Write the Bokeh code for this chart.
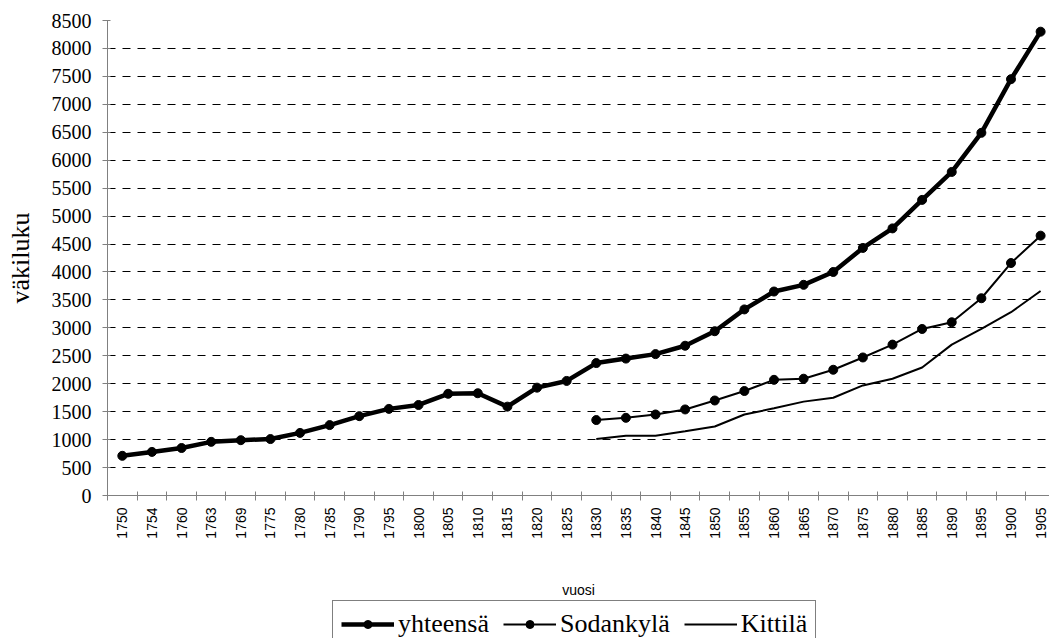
import math
import numpy as np
from bokeh.plotting import figure
from bokeh.layouts import column
from bokeh.models import (Range1d, FixedTicker, Legend, LegendItem)
from bokeh.embed import file_html
from bokeh.resources import INLINE

nan = float("nan")

years = ["1750", "1754", "1760", "1763", "1769", "1775", "1780", "1785", "1790", "1795",
         "1800", "1805", "1810", "1815", "1820", "1825", "1830", "1835", "1840", "1845",
         "1850", "1855", "1860", "1865", "1870", "1875", "1880", "1885", "1890", "1895",
         "1900", "1905"]

yhteensa = [710, 780, 850, 960, 990, 1010, 1120, 1260, 1420, 1550,
            1620, 1820, 1830, 1590, 1930, 2050, 2370, 2450, 2530, 2680,
            2940, 3330, 3650, 3770, 4000, 4430, 4780, 5290, 5790, 6490,
            7450, 8300]

sodankyla = [nan] * 16 + [1350, 1390, 1450, 1540, 1700, 1870, 2070, 2090, 2250, 2470,
                          2700, 2980, 3100, 3530, 4160, 4650]

kittila = [nan] * 16 + [1010, 1070, 1070, 1150, 1235, 1450, 1560, 1680, 1750, 1970,
                        2090, 2290, 2700, 2980, 3280, 3660]

series_names = ["yhteensä", "Sodankylä", "Kittilä"]

y_ticks = list(range(0, 8501, 500))

x = list(range(len(years)))

p = figure(width=1049, height=600, output_backend="svg", toolbar_location=None,
           x_range=Range1d(-0.5, 31.3), y_range=Range1d(0, 8500),
           min_border_left=107, min_border_top=20, min_border_right=0, min_border_bottom=104)
p.outline_line_color = None
p.background_fill_color = "white"
p.border_fill_color = "white"

# grid
p.xgrid.grid_line_color = None
p.ygrid.grid_line_color = "black"
p.ygrid.grid_line_dash = "8 7"
p.ygrid.grid_line_width = 1

# x axis
xa = p.xaxis[0]
xa.ticker = FixedTicker(ticks=x, minor_ticks=[i - 0.5 for i in range(len(years) + 1)])
xa.major_label_overrides = {i: y for i, y in enumerate(years)}
xa.major_label_orientation = math.pi / 2
xa.major_tick_line_color = None
xa.major_tick_out = 0
xa.major_tick_in = 0
xa.minor_tick_line_color = "#808080"
xa.minor_tick_out = 5
xa.minor_tick_in = 4
xa.axis_line_color = "#808080"
xa.major_label_standoff = 7
xa.major_label_text_font = "Liberation Sans"
xa.major_label_text_font_size = "14px"
xa.major_label_text_color = "black"
xa.axis_label = "vuosi"
xa.axis_label_text_font = "Liberation Sans"
xa.axis_label_text_font_size = "14px"
xa.axis_label_text_font_style = "normal"
xa.axis_label_text_color = "black"
xa.axis_label_standoff = 40

# y axis
ya = p.yaxis[0]
ya.ticker = FixedTicker(ticks=y_ticks)
ya.axis_line_color = "#808080"
ya.major_tick_line_color = "#808080"
ya.major_tick_out = 5
ya.major_tick_in = 3
ya.minor_tick_line_color = None
ya.major_label_standoff = 11
ya.major_label_text_font = "Liberation Serif"
ya.major_label_text_font_size = "20px"
ya.major_label_text_color = "black"
ya.axis_label = "väkiluku"
ya.axis_label_text_font = "Liberation Serif"
ya.axis_label_text_font_size = "26px"
ya.axis_label_text_font_style = "normal"
ya.axis_label_text_color = "black"
ya.axis_label_standoff = 14

# series
p.line(x, yhteensa, line_color="black", line_width=4.5)
p.scatter(x, yhteensa, size=9, fill_color="black", line_color="black")
p.line(x, sodankyla, line_color="black", line_width=2)
p.scatter(x, sodankyla, size=9, fill_color="black", line_color="black")
p.line(x, kittila, line_color="black", line_width=2)

# legend strip below the chart (its glyphs sit outside the visible range)
p2 = figure(width=1049, height=38, output_backend="svg", toolbar_location=None,
            x_range=Range1d(0, 1), y_range=Range1d(0, 1),
            x_axis_location=None, y_axis_location=None, min_border=0)
p2.outline_line_color = None
p2.grid.visible = False
off = [-10, -10]
g1 = p2.line(off, off, line_color="black", line_width=4.5)
m1 = p2.scatter(off, off, size=6, fill_color="black", line_color="black")
g2 = p2.line(off, off, line_color="black", line_width=2)
m2 = p2.scatter(off, off, size=6, fill_color="black", line_color="black")
g3 = p2.line(off, off, line_color="black", line_width=2)

legend = Legend(items=[
    LegendItem(label=series_names[0], renderers=[g1, m1]),
    LegendItem(label=series_names[1], renderers=[g2, m2]),
    LegendItem(label=series_names[2], renderers=[g3]),
], orientation="horizontal", location=(225, -10))
legend.label_text_font = "Liberation Serif"
legend.label_text_font_size = "26px"
legend.label_text_color = "black"
legend.glyph_width = 53
legend.glyph_height = 20
legend.label_standoff = 4
legend.spacing = 14
legend.padding = 8
legend.margin = 0
legend.border_line_color = "black"
legend.border_line_width = 1
legend.background_fill_alpha = 1
p2.add_layout(legend, "center")

layout = column(p, p2, spacing=0)
open("out.html", "w").write(file_html(layout, INLINE))
